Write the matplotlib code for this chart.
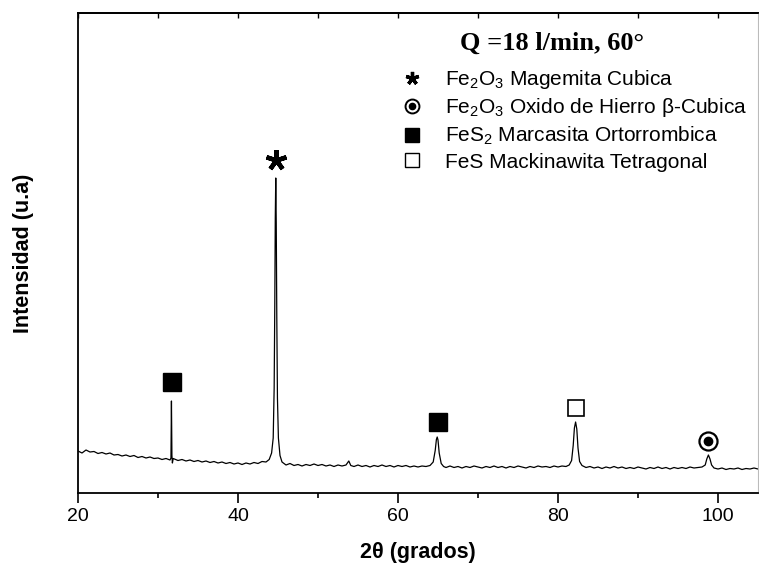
import numpy as np
import matplotlib
matplotlib.use('Agg')
import matplotlib.pyplot as plt
from matplotlib.lines import Line2D
from matplotlib.legend_handler import HandlerTuple

plt.rcParams['font.family'] = ['Liberation Sans', 'DejaVu Sans']
plt.rcParams['mathtext.fontset'] = 'custom'
plt.rcParams['mathtext.rm'] = 'Liberation Sans'

#%% Data (2theta in degrees, intensity in counts)

two_theta = [
    20.0, 20.5, 21.0, 21.5, 22.0, 22.5, 23.0, 23.5, 24.0, 24.5,
    25.0, 25.5, 26.0, 26.5, 27.0, 27.5, 28.0, 28.5, 29.0, 29.5,
    30.0, 30.5, 31.0, 31.5, 31.62, 31.68, 31.74, 31.8, 31.9,
    32.5, 33.0, 33.5, 34.0, 34.5, 35.0, 35.5, 36.0, 36.5, 37.0,
    37.5, 38.0, 38.5, 39.0, 39.5, 40.0, 40.5, 41.0, 41.5, 42.0,
    42.5, 43.0, 43.5, 43.9,
    44.2, 44.4, 44.52, 44.6, 44.66, 44.72, 44.78, 44.85, 44.93, 45.05, 45.25, 45.5,
    46.0, 46.5, 47.0, 47.5, 48.0, 48.5, 49.0, 49.5, 50.0, 50.5,
    51.0, 51.5, 52.0, 52.5, 53.0, 53.5, 53.85, 54.1, 54.5, 55.0,
    55.5, 56.0, 56.5, 57.0, 57.5, 58.0, 58.5, 59.0, 59.5, 60.0,
    60.5, 61.0, 61.5, 62.0, 62.5, 63.0, 63.5, 64.0,
    64.4, 64.65, 64.8, 64.9, 65.0, 65.15, 65.4, 65.7,
    66.0, 66.5, 67.0, 67.5, 68.0, 68.5, 69.0, 69.5, 70.0, 70.5,
    71.0, 71.5, 72.0, 72.5, 73.0, 73.5, 74.0, 74.5, 75.0, 75.5,
    76.0, 76.5, 77.0, 77.5, 78.0, 78.5, 79.0, 79.5, 80.0, 80.5,
    81.0, 81.4,
    81.7, 81.9, 82.05, 82.2, 82.35, 82.5, 82.7, 83.0,
    83.5, 84.0, 84.5, 85.0, 85.5, 86.0, 86.5, 87.0, 87.5, 88.0,
    88.5, 89.0, 89.5, 90.0, 90.5, 91.0, 91.5, 92.0, 92.5, 93.0,
    93.5, 94.0, 94.5, 95.0, 95.5, 96.0, 96.5, 97.0, 97.5, 98.0,
    98.4, 98.6, 98.8, 99.0, 99.2, 99.5,
    100.0, 100.5, 101.0, 101.5, 102.0, 102.5, 103.0, 103.5, 104.0, 104.5, 105.0,
]

intensity = [
    168, 160, 172, 164, 166, 158, 162, 156, 160, 152,
    154, 148, 152, 146, 150, 142, 146, 140, 144, 138,
    140, 134, 138, 132, 140, 368, 150, 120, 138,
    130, 134, 128, 132, 126, 130, 124, 128, 122, 126,
    120, 124, 118, 122, 116, 120, 114, 120, 116, 122,
    118, 126, 124, 134,
    160, 220, 420, 760, 1100, 1260, 1080, 700, 380, 220, 150, 124,
    112, 118, 110, 114, 108, 114, 110, 116, 110, 114,
    108, 112, 106, 112, 108, 112, 128, 110, 106, 112,
    106, 110, 104, 110, 106, 112, 106, 110, 104, 110,
    106, 110, 104, 108, 104, 108, 106, 110,
    124, 170, 214, 224, 212, 160, 118, 106,
    102, 108, 102, 106, 100, 106, 102, 108, 104, 100,
    106, 102, 108, 102, 106, 100, 106, 102, 108, 104,
    100, 106, 102, 108, 104, 106, 102, 108, 104, 108,
    106, 112,
    130, 190, 260, 284, 256, 180, 126, 110,
    102, 106, 100, 104, 98, 104, 100, 106, 100, 104,
    98, 102, 98, 104, 100, 96, 102, 98, 104, 98,
    102, 96, 102, 98, 102, 98, 104, 100, 102, 104,
    112, 136, 152, 136, 112, 100,
    96, 100, 94, 98, 96, 100, 94, 98, 96, 100, 96,
]

# phase markers above the peaks
mag_x, mag_y = [44.8], [1332]            # Fe2O3 magemita
oxi_x, oxi_y = [98.8], [208]             # Fe2O3 oxido beta
mar_x, mar_y = [31.8, 65.0], [444, 284]  # FeS2 marcasita
mack_x, mack_y = [82.2], [340]           # FeS mackinawita

xticks = [20, 40, 60, 80, 100]
xminor = [30, 50, 70, 90]

#%% Plot

f = plt.figure(figsize=(7.59, 5.63), dpi=100)
ax = f.add_axes([78/759, 70/563, 680/759, 480/563])

ax.plot(two_theta, intensity, color='black', lw=0.9)

star = (5, 2, 0)
ax.plot(mag_x, mag_y, ls='none', marker=star, ms=15, mew=3.2, color='black')
ax.plot(oxi_x, oxi_y, ls='none', marker='o', ms=13, mfc='white', mec='black', mew=1.6)
ax.plot(oxi_x, oxi_y, ls='none', marker='o', ms=6, color='black')
ax.plot(mar_x, mar_y, ls='none', marker='s', ms=13.5, color='black')
ax.plot(mack_x, mack_y, ls='none', marker='s', ms=12, mfc='white', mec='black', mew=1.2)

ax.set_xlim(20, 105)
ax.set_ylim(0, 1920)
ax.set_xticks(xticks)
ax.set_xticks(xminor, minor=True)
ax.set_yticks([])
ax.tick_params(axis='x', which='major', direction='out', length=7, width=1.2,
               labelsize=14, pad=4)
ax.tick_params(axis='x', which='minor', direction='out', length=3.5, width=1.2)
for s in ['left', 'bottom', 'top']:
    ax.spines[s].set_linewidth(1.3)
ax.spines['right'].set_color('#bbbbbb')

# small inward ticks on the top axis
top = ax.secondary_xaxis('top')
top.set_xticks(xticks, labels=[])
top.set_xticks(xminor, minor=True)
top.tick_params(which='both', direction='in', length=3.5, width=1.0)
top.spines['top'].set_linewidth(1.3)

ax.set_xlabel('2θ (grados)', fontsize=15.5, fontweight='bold', labelpad=12)
ax.set_ylabel('Intensidad (u.a)', fontsize=15.5, fontweight='bold', labelpad=32)

ax.text((552-78)/680, (493-43)/480, 'Q =18 l/min, 60°', transform=ax.transAxes,
        ha='center', va='center', family='Liberation Serif', fontweight='bold',
        fontsize=19)

# legend
h_mag = Line2D([], [], ls='none', marker=star, ms=9.5, mew=2.4, color='black')
h_oxi = (Line2D([], [], ls='none', marker='o', ms=10, mfc='white', mec='black', mew=1.4),
         Line2D([], [], ls='none', marker='o', ms=4.5, color='black'))
h_mar = Line2D([], [], ls='none', marker='s', ms=10, color='black')
h_mack = Line2D([], [], ls='none', marker='s', ms=10, mfc='white', mec='black', mew=1.0)

labels = [r'$\mathregular{Fe_2O_3}$ Magemita Cubica',
          r'$\mathregular{Fe_2O_3}$ Oxido de Hierro β-Cubica',
          r'$\mathregular{FeS_2}$ Marcasita Ortorrombica',
          'FeS Mackinawita Tetragonal']

leg = ax.legend([h_mag, h_oxi, h_mar, h_mack], labels,
                handler_map={tuple: HandlerTuple(ndivide=1, pad=0)},
                loc='upper left', bbox_to_anchor=((395-78)/680, (493-68)/480),
                frameon=False, fontsize=15, borderpad=0, borderaxespad=0,
                labelspacing=0.26, handletextpad=0.8, handlelength=1.6)

f.savefig('out.png', dpi=100)
